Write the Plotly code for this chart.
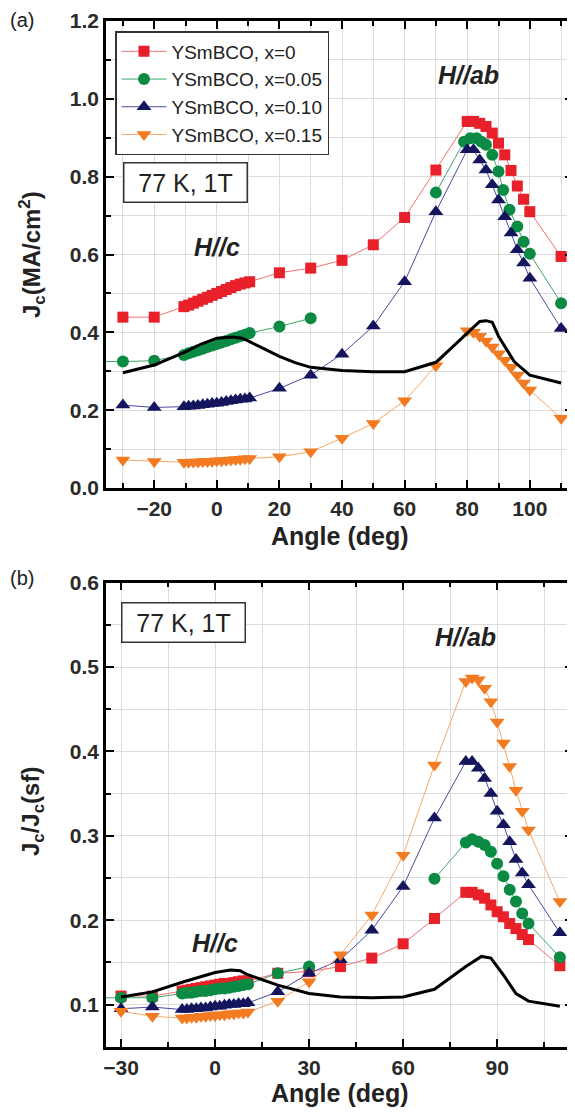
import plotly.graph_objects as go

# ---------------- data: panel (a) Jc (MA/cm^2) ----------------
dense = [-10.5, -9, -7.5, -6, -4.5, -3, -1.5, 0, 1.5, 3, 4.5, 6, 7.5, 9, 10.5]
peak = [80, 82, 84, 86, 88, 90, 92, 94, 96, 98, 100]

a_red_x = [-30, -20] + dense + [20, 30, 40, 50, 60, 70] + peak + [110]
a_red_y = [0.439, 0.439,
           0.466, 0.470, 0.475, 0.480, 0.485, 0.490, 0.495, 0.500, 0.505, 0.510, 0.515, 0.520, 0.524, 0.527, 0.530,
           0.553, 0.565, 0.585, 0.625, 0.695, 0.817,
           0.942, 0.942, 0.937, 0.929, 0.912, 0.886, 0.856, 0.816, 0.776, 0.742, 0.710,
           0.595]

a_green_x = [-40, -30, -20] + dense + [20, 30, 50, 70,
             79, 81, 83, 84.5, 86, 88, 90, 91.5, 93.5, 96, 98, 100, 110]
a_green_y = [0.325, 0.325, 0.327,
             0.342, 0.346, 0.350, 0.354, 0.358, 0.362, 0.366, 0.370, 0.374, 0.378, 0.382, 0.386, 0.390, 0.394, 0.398,
             0.415, 0.436, None, 0.759,
             0.890, 0.899, 0.899, 0.890, 0.882, 0.856, 0.813, 0.766, 0.715, 0.672, 0.633, 0.602, 0.475]

a_blue_x = [-30, -20] + dense + [20, 30, 40, 50, 60, 70] + peak + [110]
a_blue_y = [0.213, 0.207,
            0.209, 0.210, 0.211, 0.212, 0.214, 0.215, 0.217, 0.218, 0.220, 0.222, 0.224, 0.226, 0.228, 0.229, 0.231,
            0.256, 0.290, 0.344, 0.416, 0.530, 0.710,
            0.869, 0.869, 0.843, 0.817, 0.779, 0.740, 0.697, 0.655, 0.612, 0.578, 0.539,
            0.410]

a_orange_x = [-30, -20] + dense + [20, 30, 40, 50, 60, 70] + peak + [110]
a_orange_y = [0.072, 0.068,
              0.066, 0.066, 0.067, 0.067, 0.068, 0.068, 0.069, 0.070, 0.070, 0.071, 0.072, 0.073, 0.074, 0.075, 0.076,
              0.080, 0.093, 0.128, 0.166, 0.224, 0.314,
              0.404, 0.400, 0.390, 0.378, 0.362, 0.345, 0.328, 0.310, 0.290, 0.270, 0.252,
              0.179]

a_black_x = [-30, -20, -10, -5, 0, 5, 8, 10, 15, 20, 25, 30, 40, 50, 60, 70, 75, 80, 84, 86, 88, 90, 95, 100, 105, 110]
a_black_y = [0.296, 0.316, 0.350, 0.370, 0.385, 0.388, 0.385, 0.378, 0.358, 0.338, 0.322, 0.310, 0.302, 0.299,
             0.299, 0.323, 0.360, 0.398, 0.428, 0.430, 0.426, 0.390, 0.325, 0.290, 0.280, 0.270]

# ---------------- data: panel (b) Jc/Jc(sf) ----------------
b_red_x = [-30, -20] + dense + [20, 30, 40, 50, 60, 70] + peak + [110]
b_red_y = [0.110, 0.110,
           0.116, 0.117, 0.118, 0.119, 0.120, 0.121, 0.122, 0.123, 0.124, 0.125, 0.125, 0.126, 0.127, 0.128, 0.128,
           0.137, 0.139, 0.145, 0.155, 0.172, 0.202,
           0.233, 0.233, 0.230, 0.226, 0.218, 0.210, 0.204, 0.196, 0.190, 0.183, 0.177,
           0.146]

b_green_x = [-40, -30, -20] + dense + [20, 30, 50, 70,
             80, 82, 84, 86, 88, 90, 92, 94, 96, 98, 100, 110]
b_green_y = [0.108, 0.108, 0.108,
             0.113, 0.114, 0.114, 0.115, 0.116, 0.116, 0.117, 0.118, 0.119, 0.119, 0.120, 0.121, 0.122, 0.123, 0.124,
             0.137, 0.145, None, 0.249,
             0.292, 0.296, 0.293, 0.289, 0.281, 0.267, 0.252, 0.236, 0.222, 0.208, 0.196, 0.156]

b_blue_x = [-30, -20] + dense + [20, 30, 40, 50, 60, 70] + peak + [110]
b_blue_y = [0.095, 0.097,
            0.094, 0.094, 0.095, 0.095, 0.096, 0.096, 0.097, 0.098, 0.098, 0.099, 0.100, 0.100, 0.101, 0.101, 0.102,
            0.115, 0.137, 0.153, 0.188, 0.240, 0.321,
            0.388, 0.388, 0.380, 0.368, 0.350, 0.329, 0.313, 0.293, 0.272, 0.256, 0.242,
            0.185]

b_orange_x = [-30, -20] + dense + [20, 30, 40, 50, 60, 70] + peak + [110]
b_orange_y = [0.092, 0.086,
              0.084, 0.084, 0.085, 0.085, 0.086, 0.086, 0.087, 0.087, 0.088, 0.088, 0.089, 0.089, 0.090, 0.090, 0.091,
              0.104, 0.127, 0.159, 0.206, 0.277, 0.384,
              0.483, 0.487, 0.485, 0.475, 0.459, 0.435, 0.410, 0.382, 0.354, 0.329, 0.307,
              0.222]

b_black_x = [-30, -20, -10, 0, 5, 8, 10, 20, 30, 40, 50, 60, 70, 80, 85, 88, 92, 96, 100, 110]
b_black_y = [0.109, 0.115, 0.127, 0.138, 0.141, 0.140, 0.136, 0.123, 0.113, 0.109, 0.108, 0.109, 0.118,
             0.145, 0.157, 0.155, 0.135, 0.113, 0.104, 0.098]

labels = ["YSmBCO, x=0", "YSmBCO, x=0.05", "YSmBCO, x=0.10", "YSmBCO, x=0.15"]

# ---------------- styling ----------------
W, H = 575, 1113
OFF = 8  # page body margin
mcol = ["#E8202A", "#0B8A44", "#15155E", "#F27A21"]
lcol = ["#F07070", "#3FA56A", "#4A4AA0", "#F6A868"]
symbols = ["square", "circle", "triangle-up", "triangle-down"]
sizes = [11, 12, 13, 13]
FONT = "Liberation Sans, Arial, sans-serif"


def px_x(p):
    return (p - OFF) / W


def px_y(p):
    return 1 - (p - OFF) / H


fig = go.Figure()

series_a = [(a_red_x, a_red_y), (a_green_x, a_green_y), (a_blue_x, a_blue_y), (a_orange_x, a_orange_y)]
series_b = [(b_red_x, b_red_y), (b_green_x, b_green_y), (b_blue_x, b_blue_y), (b_orange_x, b_orange_y)]

for i, (xs, ys) in enumerate(series_a):
    fig.add_trace(go.Scatter(x=xs, y=ys, mode="lines+markers", name=labels[i],
                             line=dict(color=lcol[i], width=1),
                             marker=dict(symbol=symbols[i], size=sizes[i], color=mcol[i], line=dict(width=0)),
                             connectgaps=False, xaxis="x", yaxis="y"))
for i, (xs, ys) in enumerate(series_b):
    fig.add_trace(go.Scatter(x=xs, y=ys, mode="lines+markers", name=labels[i], showlegend=False,
                             line=dict(color=lcol[i], width=1),
                             marker=dict(symbol=symbols[i], size=sizes[i], color=mcol[i], line=dict(width=0)),
                             connectgaps=False, xaxis="x2", yaxis="y2"))
fig.add_trace(go.Scatter(x=a_black_x, y=a_black_y, mode="lines", line=dict(color="black", width=3),
                         showlegend=False, xaxis="x", yaxis="y"))
fig.add_trace(go.Scatter(x=b_black_x, y=b_black_y, mode="lines", line=dict(color="black", width=3),
                         showlegend=False, xaxis="x2", yaxis="y2"))

axis_common = dict(showline=True, linecolor="black", linewidth=2.5, mirror="allticks",
                   ticks="inside", ticklen=8, tickwidth=2, tickcolor="black",
                   showgrid=True, gridcolor="#DCDCDC", gridwidth=1, zeroline=False, automargin=False,
                   tickfont=dict(family=FONT, size=21, color="#2a2a2a", weight="bold"),
                   )


def minor(d):
    return dict(dtick=d, ticks="inside", ticklen=5, tickwidth=2, tickcolor="black",
                showgrid=True, gridcolor="#DCDCDC")


fig.update_layout(
    width=W, height=H, margin=dict(l=0, r=0, t=0, b=0, pad=0, autoexpand=False),
    paper_bgcolor="white", plot_bgcolor="white",
    font=dict(family=FONT, color="#222"),
    xaxis=dict(axis_common, domain=[px_x(106), px_x(573)], range=[-35.4, 113.8], dtick=20, tick0=0,
               anchor="y", minor=minor(10)),
    yaxis=dict(axis_common, domain=[px_y(488), px_y(21)], range=[0, 1.2], dtick=0.2, tick0=0,
               tickformat=".1f", anchor="x", minor=minor(0.1)),
    xaxis2=dict(axis_common, domain=[px_x(106), px_x(573)], range=[-34.8, 114.2], dtick=30, tick0=0,
                anchor="y2", minor=minor(15)),
    yaxis2=dict(axis_common, domain=[px_y(1046.7), px_y(582.7)], range=[0.05, 0.6], dtick=0.1, tick0=0,
                tickformat=".1f", anchor="x2", minor=minor(0.05)),
    legend=dict(x=px_x(115), y=px_y(31), xanchor="left", yanchor="top",
                bgcolor="white", bordercolor="#333", borderwidth=1.5, itemwidth=45,
                font=dict(family=FONT, size=19, color="#222"), tracegroupgap=0),
)

ann = []


def A(text, x, y, xref="paper", yref="paper", size=24, **kw):
    ann.append(dict(text=text, x=x, y=y, xref=xref, yref=yref, showarrow=False,
                    xanchor="center", yanchor="middle", font=dict(family=FONT, size=size, color="#222"), **kw))


# panel labels
A("(a)", px_x(22), px_y(20), size=20)
A("(b)", px_x(22), px_y(578), size=20)
# axis titles
A("<b>J<sub>c</sub>(MA/cm<sup>2</sup>)</b>", px_x(32), px_y(255), size=24, textangle=-90)
A("<b>J<sub>c</sub>/J<sub>c</sub>(sf)</b>", px_x(32), px_y(812), size=24, textangle=-90)
A("<b>Angle (deg)</b>", px_x(340), px_y(536), size=25)
A("<b>Angle (deg)</b>", px_x(340), px_y(1093), size=25)
# in-plot labels
A("<b><i>H//c</i></b>", 0, 0.62, "x", "y", size=25)
A("<b><i>H//ab</i></b>", 80.3, 1.062, "x", "y", size=25)
A("77 K, 1T", -10.1, 0.784, "x", "y", size=25, width=116, height=32,
  bordercolor="#333", borderwidth=1.5, borderpad=3, bgcolor="white")
A("<b><i>H//c</i></b>", 0, 0.173, "x2", "y2", size=25)
A("<b><i>H//ab</i></b>", 79.8, 0.536, "x2", "y2", size=25)
A("77 K, 1T", -10.2, 0.553, "x2", "y2", size=25, width=116, height=32,
  bordercolor="#333", borderwidth=1.5, borderpad=3, bgcolor="white")
fig.update_layout(annotations=ann)

fig.write_html("out.html")
